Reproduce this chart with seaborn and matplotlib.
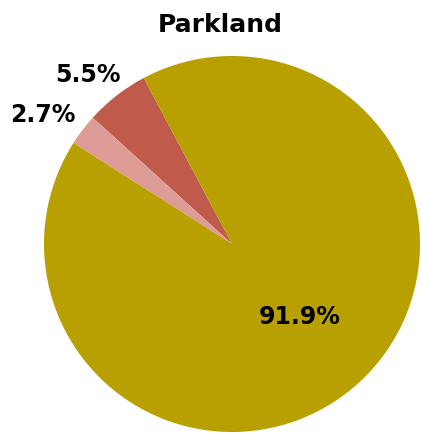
import matplotlib
matplotlib.use("Agg")
import matplotlib.pyplot as plt
import seaborn as sns
import numpy as np

sns.set_theme(style="white")
plt.rcParams['font.family'] = ['DejaVu Sans']

categories = ["Category A", "Category B", "Category C"]
values = [5.5, 2.7, 91.9]
pct_labels = ["5.5%", "2.7%", "91.9%"]
colors = ["#C05A4A", "#DE9C96", "#B8A000"]

fig = plt.figure(figsize=(4.21, 4.33), dpi=100)
W, H = 421, 433
cx, cy, r = 232, 244, 188
ax = fig.add_axes([(cx - r) / W, (H - cy - r) / H, 2 * r / W, 2 * r / H])

wedges, texts = ax.pie(values, labels=pct_labels, colors=colors, startangle=118,
                       counterclock=True, labeldistance=1.19, radius=1.0,
                       wedgeprops=dict(linewidth=0),
                       textprops=dict(fontsize=17, fontweight='bold', color='black'))
ax.set_xlim(-1, 1)
ax.set_ylim(-1, 1)
ax.set_aspect('auto')

label_dist = [1.18, 1.22, 0.53]
angle_shift = [2.5, 3.0, 0.0]
for w, t, d, s in zip(wedges, texts, label_dist, angle_shift):
    ang = np.deg2rad((w.theta1 + w.theta2) / 2 + s)
    t.set_position((d * np.cos(ang), d * np.sin(ang)))
    t.set_ha('center')
    t.set_va('center')

fig.text(220 / W, (H - 25) / H, "Parkland", ha='center', va='center',
         fontsize=18, fontweight='bold', color='black')

fig.savefig("out.png", dpi=100)
